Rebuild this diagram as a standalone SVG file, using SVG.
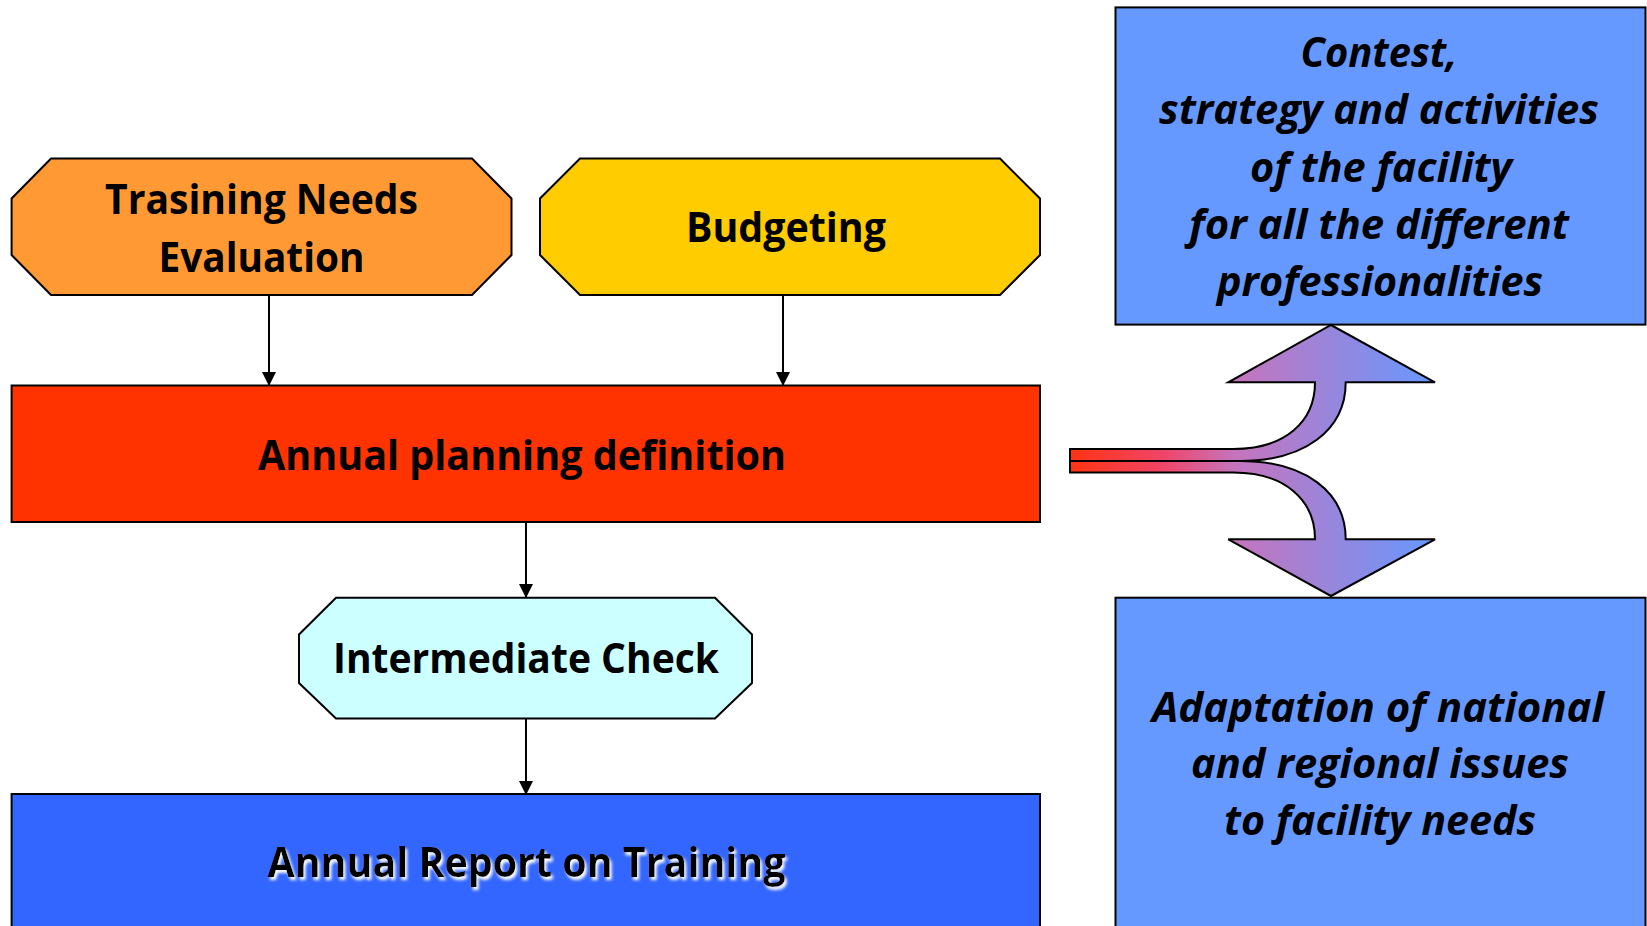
<svg xmlns="http://www.w3.org/2000/svg" width="1647" height="926" viewBox="0 0 1647 926">
<style>
.box{stroke:#000;stroke-width:2}
.t{font-family:"Open Sans","Noto Sans","Liberation Sans",sans-serif;font-weight:bold;font-size:42px;fill:#000;text-anchor:middle}
.ti{font-family:"Open Sans","Noto Sans","Liberation Sans",sans-serif;font-weight:bold;font-style:italic;font-size:42px;fill:#000;text-anchor:middle}
.conn{stroke:#000;stroke-width:2;fill:none}
</style>
<defs>
<marker id="ah" markerUnits="userSpaceOnUse" markerWidth="14" markerHeight="14" viewBox="0 0 14 14" refX="13" refY="7" orient="auto">
<path d="M0,0 L14,7 L0,14 Z" fill="#000"/>
</marker>
<linearGradient id="grad" gradientUnits="userSpaceOnUse" x1="1070" y1="0" x2="1435" y2="0">
<stop offset="0" stop-color="#FF3311"/>
<stop offset="0.25" stop-color="#F04466"/>
<stop offset="0.45" stop-color="#C674BC"/>
<stop offset="1" stop-color="#6699FF"/>
</linearGradient>
<filter id="glow" x="-10%" y="-30%" width="120%" height="160%">
<feOffset in="SourceAlpha" dx="2" dy="3" result="o"/>
<feGaussianBlur in="o" stdDeviation="1.5" result="b"/>
<feFlood flood-color="#fff"/>
<feComposite in2="b" operator="in" result="w"/>
<feMerge><feMergeNode in="w"/><feMergeNode in="SourceGraphic"/></feMerge>
</filter>
</defs>
<rect width="1647" height="926" fill="#fff"/>

<g id="connectors">
<line class="conn" x1="269" y1="295" x2="269" y2="385" marker-end="url(#ah)"/>
<line class="conn" x1="783" y1="295" x2="783" y2="385" marker-end="url(#ah)"/>
<line class="conn" x1="526" y1="522" x2="526" y2="597" marker-end="url(#ah)"/>
<line class="conn" x1="526" y1="718" x2="526" y2="794" marker-end="url(#ah)"/>
</g>

<g id="training-needs">
<polygon class="box" fill="#FF9933" points="51,158.6 472,158.6 511.5,198.5 511.5,255 472,295 51,295 11.6,255 11.6,198.5"/>
<text class="t" x="261.5" y="214" textLength="313" lengthAdjust="spacingAndGlyphs">Trasining Needs</text>
<text class="t" x="261.5" y="272" textLength="206" lengthAdjust="spacingAndGlyphs">Evaluation</text>
</g>

<g id="budgeting">
<polygon class="box" fill="#FFCC00" points="580,158.6 1000,158.6 1040,198.5 1040,255 1000,295 580,295 540,255 540,198.5"/>
<text class="t" x="786" y="242" textLength="200" lengthAdjust="spacingAndGlyphs">Budgeting</text>
</g>

<g id="annual-planning">
<rect class="box" fill="#FF3300" x="11.6" y="385.5" width="1028.4" height="136.5"/>
<text class="t" x="522" y="470" textLength="528" lengthAdjust="spacingAndGlyphs">Annual planning definition</text>
</g>

<g id="intermediate-check">
<polygon class="box" fill="#CCFFFF" points="336,597.7 715,597.7 752,634.5 752,683 715,718.5 336,718.5 299,683 299,634.5"/>
<text class="t" x="526" y="673" textLength="386" lengthAdjust="spacingAndGlyphs">Intermediate Check</text>
</g>

<g id="annual-report">
<rect class="box" fill="#3366FF" x="11.6" y="794" width="1028.4" height="140"/>
<text class="t" x="526.5" y="877" textLength="518" lengthAdjust="spacingAndGlyphs" filter="url(#glow)">Annual Report on Training</text>
</g>

<g id="contest-box">
<rect class="box" fill="#6699FF" x="1115.5" y="7.4" width="530" height="317.2"/>
<text class="ti" x="1379" y="67" textLength="157" lengthAdjust="spacingAndGlyphs">Contest,</text>
<text class="ti" x="1379" y="124" textLength="440" lengthAdjust="spacingAndGlyphs">strategy and activities</text>
<text class="ti" x="1381" y="181.5" textLength="262" lengthAdjust="spacingAndGlyphs">of the facility</text>
<text class="ti" x="1379" y="239" textLength="380" lengthAdjust="spacingAndGlyphs">for all the different</text>
<text class="ti" x="1380" y="296" textLength="326" lengthAdjust="spacingAndGlyphs">professionalities</text>
</g>

<g id="adaptation-box">
<rect class="box" fill="#6699FF" x="1115.5" y="597.7" width="530" height="340"/>
<text class="ti" x="1378" y="722" textLength="452" lengthAdjust="spacingAndGlyphs">Adaptation of national</text>
<text class="ti" x="1380" y="778" textLength="378" lengthAdjust="spacingAndGlyphs">and regional issues</text>
<text class="ti" x="1380" y="835" textLength="312" lengthAdjust="spacingAndGlyphs">to facility needs</text>
</g>

<g id="split-arrow">
<path fill="url(#grad)" stroke="#000" stroke-width="2" stroke-linejoin="miter" d="M1070,449 L1233,449 C1285,449 1315,422 1315,382.3 L1228.3,382.3 L1331,325 L1435,382.3 L1345.7,382.3 C1345.7,430 1305,461 1240,461 L1070,461 Z"/>
<path fill="url(#grad)" stroke="#000" stroke-width="2" stroke-linejoin="miter" d="M1070,472.5 L1233,472.5 C1285,472.5 1315,500 1315,539.3 L1228.3,539.3 L1331,596 L1435,539.3 L1345.7,539.3 C1345.7,492 1305,461 1240,461 L1070,461 Z"/>
</g>
</svg>
